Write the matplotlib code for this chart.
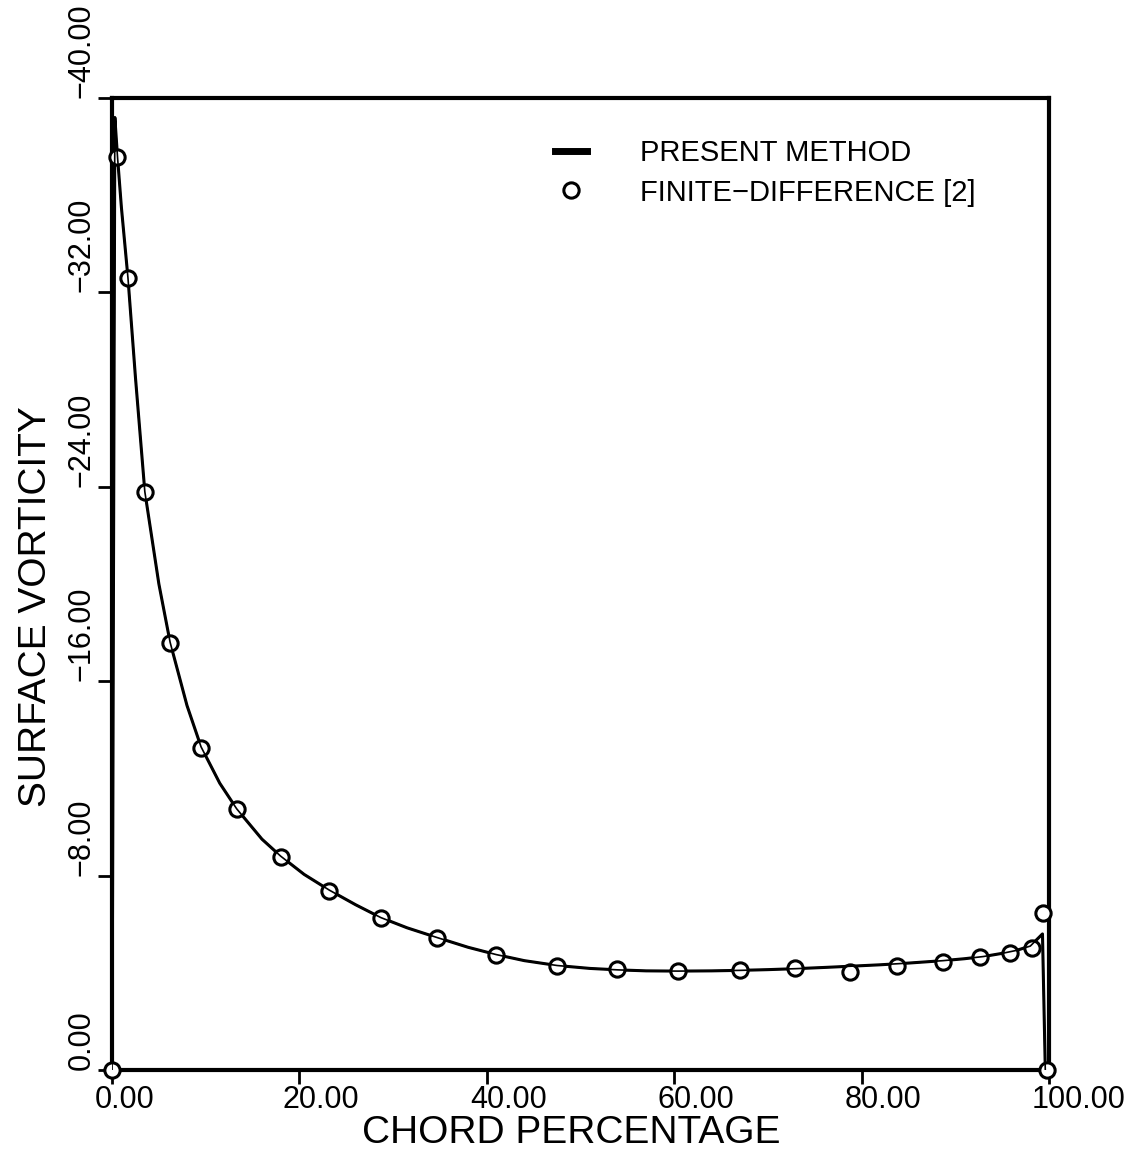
import matplotlib
matplotlib.use("Agg")
import matplotlib.pyplot as plt
import matplotlib.transforms as mtransforms
from matplotlib.ticker import FuncFormatter

# present method curve (chord %, surface vorticity)
line_x = [0, 0.3, 0.6, 1.0, 1.7, 2.5, 3.5, 5.0, 6.2, 8.0, 9.5, 11.5, 13.3, 16.0,
          18.0, 20.5, 23.2, 26.0, 28.7, 31.5, 34.7, 38.0, 41.0, 44.0, 47.5, 51.0,
          54.0, 57.0, 60.4, 64.0, 67.0, 70.0, 73.0, 76.0, 78.8, 82.0, 85.0, 88.7,
          91.0, 93.0, 95.0, 96.5, 98.0, 99.3, 99.6]
line_y = [0, -39.2, -37.5, -35.5, -32.6, -28.5, -23.8, -20.0, -17.6, -15.0, -13.3,
          -11.8, -10.75, -9.5, -8.8, -8.05, -7.4, -6.8, -6.27, -5.85, -5.45, -5.05,
          -4.75, -4.5, -4.3, -4.18, -4.12, -4.08, -4.07, -4.08, -4.1, -4.13, -4.17,
          -4.22, -4.27, -4.33, -4.4, -4.5, -4.58, -4.67, -4.8, -4.92, -5.1, -5.6, 0]

# finite-difference points
fd_x = [0, 0.53, 1.71, 3.52, 6.19, 9.50, 13.34, 18.04, 23.16, 28.71, 34.69, 40.98,
        47.49, 53.89, 60.40, 67.02, 72.89, 78.76, 83.78, 88.69, 92.64, 95.84,
        98.19, 99.36, 99.8]
fd_y = [0, -37.57, -32.59, -23.79, -17.57, -13.25, -10.74, -8.77, -7.37, -6.26,
        -5.43, -4.73, -4.28, -4.16, -4.07, -4.12, -4.2, -4.03, -4.28, -4.44,
        -4.65, -4.81, -5.02, -6.46, 0]

xticks = [0, 20, 40, 60, 80, 100]
yticks = [0, -8, -16, -24, -32, -40]

plt.rcParams['font.family'] = ['Liberation Sans', 'DejaVu Sans']

fig = plt.figure(figsize=(11.42, 11.56), dpi=100)
ax = fig.add_axes([0.0981, 0.0744, 0.8205, 0.8408])

ax.plot(line_x, line_y, color='black', linewidth=2.2, label='PRESENT METHOD')
ax.plot(fd_x, fd_y, linestyle='none', marker='o', markersize=11,
        markerfacecolor='white', markeredgecolor='black', markeredgewidth=2.2,
        label='FINITE\u2212DIFFERENCE [2]', clip_on=False, zorder=3)
ax.plot(line_x, line_y, color='black', linewidth=1.2, zorder=3.5)

ax.set_xlim(0, 100)
ax.set_ylim(0, -40)
ax.set_xticks(xticks)
ax.set_yticks(yticks)
ax.xaxis.set_major_formatter(FuncFormatter(lambda v, p: '%.2f' % v))
ax.yaxis.set_major_formatter(FuncFormatter(lambda v, p: ('%.2f' % v).replace('-', '\u2212')))

for s in ax.spines.values():
    s.set_linewidth(3)

ax.tick_params(axis='both', direction='out', length=10, width=2, labelsize=22)
ax.tick_params(axis='x', pad=1)
ax.tick_params(axis='y', pad=1, labelrotation=90)

off = mtransforms.ScaledTranslation(-0.17, 0, fig.dpi_scale_trans)
for lab in ax.get_xticklabels():
    lab.set_horizontalalignment('left')
    lab.set_transform(lab.get_transform() + off)
for lab in ax.get_yticklabels():
    lab.set_verticalalignment('bottom')

ax.set_xlabel('CHORD PERCENTAGE', fontsize=28)
ax.set_ylabel('SURFACE VORTICITY', fontsize=28)
ax.xaxis.set_label_coords(0.49, -0.046)
ax.yaxis.set_label_coords(-0.062, 0.477)

leg = ax.legend(loc='upper left', bbox_to_anchor=(0.4727, 0.958), frameon=False,
                fontsize=21, handlelength=1.1, handletextpad=1.8, labelspacing=0.4,
                borderpad=0, borderaxespad=0)
leg.legend_handles[0].set_linewidth(5)

fig.savefig('out.png', dpi=100)
